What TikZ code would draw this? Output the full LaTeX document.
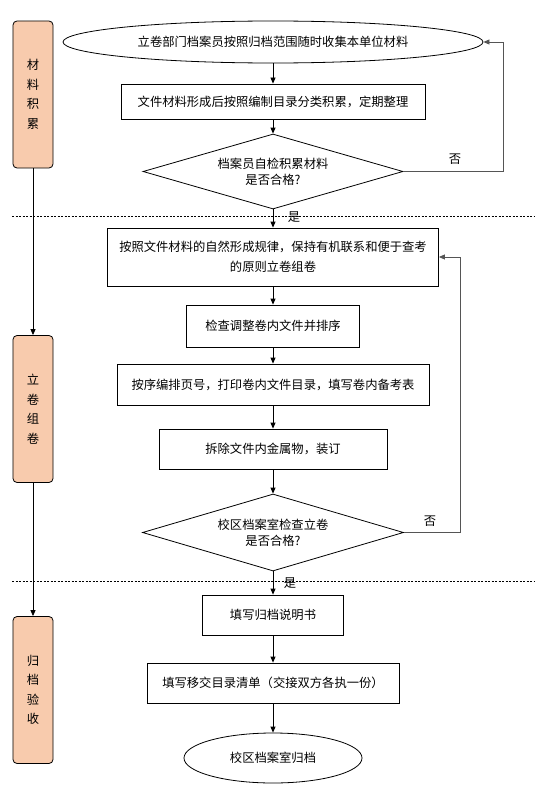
\documentclass[tikz,border=0pt]{standalone}
\usepackage{fontspec}
\newfontfamily\cjk{Noto Sans CJK SC}
\usetikzlibrary{arrows.meta,positioning,shapes.geometric}

\definecolor{lanefill}{RGB}{248,203,173}
\definecolor{loopgray}{RGB}{85,85,85}

\begin{document}
\begin{tikzpicture}[
  x=1bp, y=-1bp,
  every node/.style={font=\cjk\fontsize{12.3bp}{15bp}\selectfont},
  arrow/.style={-{Triangle[length=6bp,width=5bp]}, line width=0.8bp},
  looparrow/.style={arrow, draw=loopgray},
  stepbox/.style={draw, line width=0.8bp, inner sep=0pt, align=center},
  terminal/.style={draw, ellipse, line width=0.8bp, inner sep=0pt},
  decision/.style={draw, diamond, aspect=3.5, line width=0.8bp, inner sep=0pt, align=center,
    font=\cjk\fontsize{12.3bp}{16bp}\selectfont},
  lane/.style={draw, line width=0.8bp, rounded corners=4bp, fill=lanefill,
    minimum width=40bp, minimum height=147bp, inner sep=0pt, align=center,
    font=\cjk\fontsize{12.3bp}{19.5bp}\selectfont},
  separator/.style={dash pattern=on 2bp off 1.5bp, line width=0.7bp},
  ]

\useasboundingbox (0,0) rectangle (551,792);

% Stage lanes on the left
\node[lane] (lane1) at (33,94.5) {材\\料\\积\\累};
\node[lane] (lane2) at (33,409) {立\\卷\\组\\卷};
\node[lane] (lane3) at (33,690) {归\\档\\验\\收};

\draw[arrow] (lane1) -- (lane2);
\draw[arrow] (lane2) -- (lane3);

% Stage separators
\draw[separator] (12,216) -- (535,216);
\draw[separator] (12,581) -- (535,581);

% Main column
\node[terminal, minimum width=420bp, minimum height=42bp] (start) at (273,42)
  {立卷部门档案员按照归档范围随时收集本单位材料};
\node[stepbox, minimum width=304bp, minimum height=35bp] (collect) at (273,101.5)
  {文件材料形成后按照编制目录分类积累，定期整理};
\node[decision, minimum width=260bp, minimum height=75bp] (check1) at (273,171.5)
  {档案员自检积累材料\\是否合格?};
\node[stepbox, minimum width=331bp, minimum height=58bp,
  font=\cjk\fontsize{12.3bp}{20bp}\selectfont] (rule) at (273,257)
  {按照文件材料的自然形成规律，保持有机联系和便于查考\\的原则立卷组卷};
\node[stepbox, minimum width=173bp, minimum height=42bp] (adjust) at (273,326)
  {检查调整卷内文件并排序};
\node[stepbox, minimum width=312bp, minimum height=41bp] (paging) at (273,384.5)
  {按序编排页号，打印卷内文件目录，填写卷内备考表};
\node[stepbox, minimum width=228bp, minimum height=40bp] (bind) at (273,449)
  {拆除文件内金属物，装订};
\node[decision, minimum width=261bp, minimum height=77bp] (check2) at (273,532.5)
  {校区档案室检查立卷\\是否合格?};
\node[stepbox, minimum width=141bp, minimum height=40bp] (manual) at (273,615)
  {填写归档说明书};
\node[stepbox, minimum width=252bp, minimum height=40bp] (handover) at (273,683)
  {填写移交目录清单（交接双方各执一份）};
\node[terminal, minimum width=178bp, minimum height=50bp] (finish) at (273,758)
  {校区档案室归档};

% Main flow
\draw[arrow] (start) -- (collect);
\draw[arrow] (collect) -- (check1);
\draw[arrow] (check1) -- (rule);
\draw[arrow] (rule) -- (adjust);
\draw[arrow] (adjust) -- (paging);
\draw[arrow] (paging) -- (bind);
\draw[arrow] (bind) -- (check2);
\draw[arrow] (check2) -- (manual);
\draw[arrow] (manual) -- (handover);
\draw[arrow] (handover) -- (finish);

% Yes labels
\node (yes1) at (294,217) {是};
\node (yes2) at (290,583) {是};

% No loops
\coordinate (loop1) at (503,171.5);
\coordinate (loop2) at (460,532.5);
\draw[looparrow] (check1.east) -- (loop1) |- (start.east);
\draw[looparrow] (check2.east) -- (loop2) |- (rule.east);
\node (no1) at (455,159) {否};
\node (no2) at (430,521) {否};

\end{tikzpicture}
\end{document}
